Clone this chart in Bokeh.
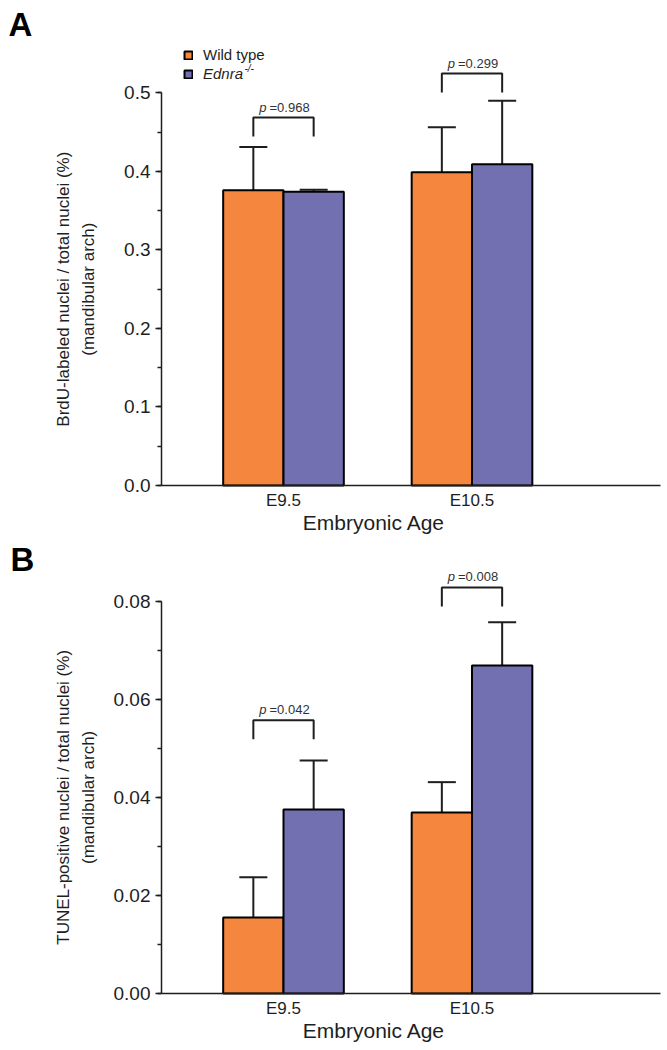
import numpy as np
from bokeh.plotting import figure
from bokeh.models import (ColumnDataSource, Whisker, TeeHead, SingleIntervalTicker, FixedTicker,
                          PrintfTickFormatter, CustomJSTickFormatter, Legend, LegendItem,
                          LinearAxis, Range1d)
from bokeh.layouts import column
from bokeh.embed import file_html
from bokeh.resources import INLINE
from bokeh.core.properties import value

# ---------------- data ----------------
ages = ["E9.5", "E10.5"]
groups = ["Wild type", "Ednra"]
genotype_sup = "-/-"

brdu_wt = [0.376, 0.399]
brdu_wt_err = [0.055, 0.057]
brdu_ko = [0.374, 0.409]
brdu_ko_err = [0.0025, 0.081]
brdu_p = [0.968, 0.299]

tunel_wt = [0.0155, 0.0369]
tunel_wt_err = [0.0082, 0.0062]
tunel_ko = [0.0375, 0.0669]
tunel_ko_err = [0.0100, 0.0088]
tunel_p = [0.042, 0.008]

# ---------------- style / layout ----------------
ORANGE = "#F4863D"
PURPLE = "#7370B2"
INK = "#1e1e1e"
FONT = "Liberation Sans"
BAR_W = 0.32
W = 664
XC, XU = 283.0, 188.5          # page x of first group centre, px per group
AX_LEFT, AX_RIGHT = 161, 660   # page x extent of the axes


def px(page_x):
    return (page_x - XC) / XU + 1


def make_panel(letter, wt, wt_err, ko, ko_err, pvals, ylab1, ylab2, y_axis_max, interval, fmt,
               top_page, height, zero_page, ref_page, bracket_y, letter_pos, show_legend):
    k = y_axis_max / (zero_page - ref_page)

    def py(page_y):
        return (zero_page - page_y) * k

    p = figure(width=W, height=height,
               x_range=Range1d(px(0), px(W)),
               y_range=Range1d(py(top_page + height), py(top_page)),
               output_backend="svg", toolbar_location=None, title=None,
               x_axis_location=None, y_axis_location=None,
               min_border=0, min_border_left=0, min_border_right=0,
               min_border_top=0, min_border_bottom=0)
    p.outline_line_color = None
    p.xgrid.visible = False
    p.ygrid.visible = False
    p.background_fill_color = "white"
    p.border_fill_color = "white"

    x = np.arange(1, len(ages) + 1, dtype=float)
    xw = x - BAR_W / 2
    xk = x + BAR_W / 2
    wt = np.array(wt); ko = np.array(ko)
    src_wt = ColumnDataSource(dict(x=xw, top=wt, upper=wt + np.array(wt_err)))
    src_ko = ColumnDataSource(dict(x=xk, top=ko, upper=ko + np.array(ko_err)))

    r_wt = p.vbar(x="x", top="top", width=BAR_W, source=src_wt, fill_color=ORANGE,
                  line_color="black", line_width=2)
    r_ko = p.vbar(x="x", top="top", width=BAR_W, source=src_ko, fill_color=PURPLE,
                  line_color="black", line_width=2)

    for src in (src_wt, src_ko):
        p.add_layout(Whisker(source=src, base="x", lower="top", upper="upper",
                             dimension="height", line_color=INK, line_width=2,
                             upper_head=TeeHead(size=28, line_color=INK, line_width=2),
                             lower_head=None))

    # brackets with p-values
    leg = 19 * k
    xs, ys = [], []
    for i in range(len(ages)):
        b = bracket_y[i]
        xs.append([xw[i], xw[i], xk[i], xk[i]])
        ys.append([b - leg, b, b, b - leg])
    p.multi_line(xs=xs, ys=ys, line_color=INK, line_width=2)
    psrc = ColumnDataSource(dict(x=x, y=bracket_y, ptxt=["p"] * len(pvals),
                                 vtxt=["=%.3f" % v for v in pvals]))
    p.text(x="x", y="y", text="ptxt", source=psrc, x_offset=-17, y_offset=-3,
           text_align="right", text_baseline="bottom", text_font=value(FONT),
           text_font_size="13px", text_font_style="italic", text_color="#333333")
    p.text(x="x", y="y", text="vtxt", source=psrc, x_offset=-14, y_offset=-3,
           text_align="left", text_baseline="bottom", text_font=value(FONT),
           text_font_size="13px", text_color="#333333")

    # y axis, drawn at a fixed location inside the full-canvas frame
    ya = LinearAxis(fixed_location=px(AX_LEFT), bounds=(0, y_axis_max),
                    ticker=SingleIntervalTicker(interval=interval, num_minor_ticks=2),
                    formatter=PrintfTickFormatter(format=fmt))
    ya.major_label_text_font = FONT
    ya.major_label_text_font_size = "19px"
    ya.major_label_text_color = INK
    ya.major_label_standoff = 5
    ya.major_tick_out = 6
    ya.major_tick_in = 0
    ya.minor_tick_out = 4
    ya.minor_tick_in = 0
    ya.axis_line_width = 1.5
    ya.axis_line_color = INK
    ya.major_tick_line_width = 1.5
    ya.major_tick_line_color = INK
    ya.minor_tick_line_width = 1.5
    ya.minor_tick_line_color = INK
    p.add_layout(ya, "left")

    # x axis
    xa = LinearAxis(fixed_location=0, bounds=(px(AX_LEFT), px(AX_RIGHT)),
                    ticker=FixedTicker(ticks=list(x)),
                    formatter=CustomJSTickFormatter(args=dict(labels=ages),
                                                    code="return labels[Math.round(tick) - 1] || '';"))
    xa.major_label_text_font = FONT
    xa.major_label_text_font_size = "17px"
    xa.major_label_text_color = INK
    xa.major_label_standoff = 5
    xa.major_tick_out = 0
    xa.major_tick_in = 0
    xa.minor_tick_line_color = None
    xa.axis_line_width = 1.5
    xa.axis_line_color = INK
    p.add_layout(xa, "below")

    # axis titles and panel letter
    ymid = py((zero_page + ref_page) / 2)
    p.text(x=[px(63), px(88)], y=[ymid, ymid], text=[ylab1, ylab2], angle=np.pi / 2,
           text_align="center", text_baseline="middle", text_font=value(FONT),
           text_font_size="17px", text_color=INK)
    p.text(x=[1.48], y=[py(zero_page + 37)], text=["Embryonic Age"], text_align="center",
           text_baseline="middle", text_font=value(FONT), text_font_size="21px", text_color=INK)
    p.text(x=[px(letter_pos[0])], y=[py(letter_pos[1])], text=[letter], text_align="left",
           text_baseline="middle", text_font=value(FONT), text_font_size="33px",
           text_font_style="bold", text_color="black")

    if show_legend:
        common = dict(padding=0, margin=0, spacing=0, border_line_color=None,
                      background_fill_alpha=0, glyph_width=10, glyph_height=10,
                      label_standoff=10, label_text_font=FONT, label_text_font_size="15px",
                      label_text_color=INK, label_height=10)
        l1 = Legend(items=[LegendItem(label=groups[0], renderers=[r_wt])],
                    location=(183, height - 63), **common)
        l2 = Legend(items=[LegendItem(label=groups[1], renderers=[r_ko])],
                    location=(183, height - 82), label_text_font_style="italic", **common)
        p.add_layout(l1)
        p.add_layout(l2)
        p.text(x=[px(244)], y=[py(68)], text=[genotype_sup], text_align="left",
               text_baseline="middle", text_font=value(FONT), text_font_size="10px",
               text_font_style="italic", text_color=INK)
    return p


pA = make_panel("A", brdu_wt, brdu_wt_err, brdu_ko, brdu_ko_err, brdu_p,
                "BrdU-labeled nuclei / total nuclei (%)", "(mandibular arch)",
                0.5, 0.1, "%.1f", 0, 540, 485, 92.3, [0.4685, 0.5245], (8, 24), True)
pB = make_panel("B", tunel_wt, tunel_wt_err, tunel_ko, tunel_ko_err, tunel_p,
                "TUNEL-positive nuclei / total nuclei (%)", "(mandibular arch)",
                0.08, 0.02, "%.2f", 540, 508, 993, 600.7, [0.0557, 0.0828], (10, 559), False)

layout = column(pA, pB, spacing=0)
open("out.html", "w").write(file_html(layout, INLINE))
